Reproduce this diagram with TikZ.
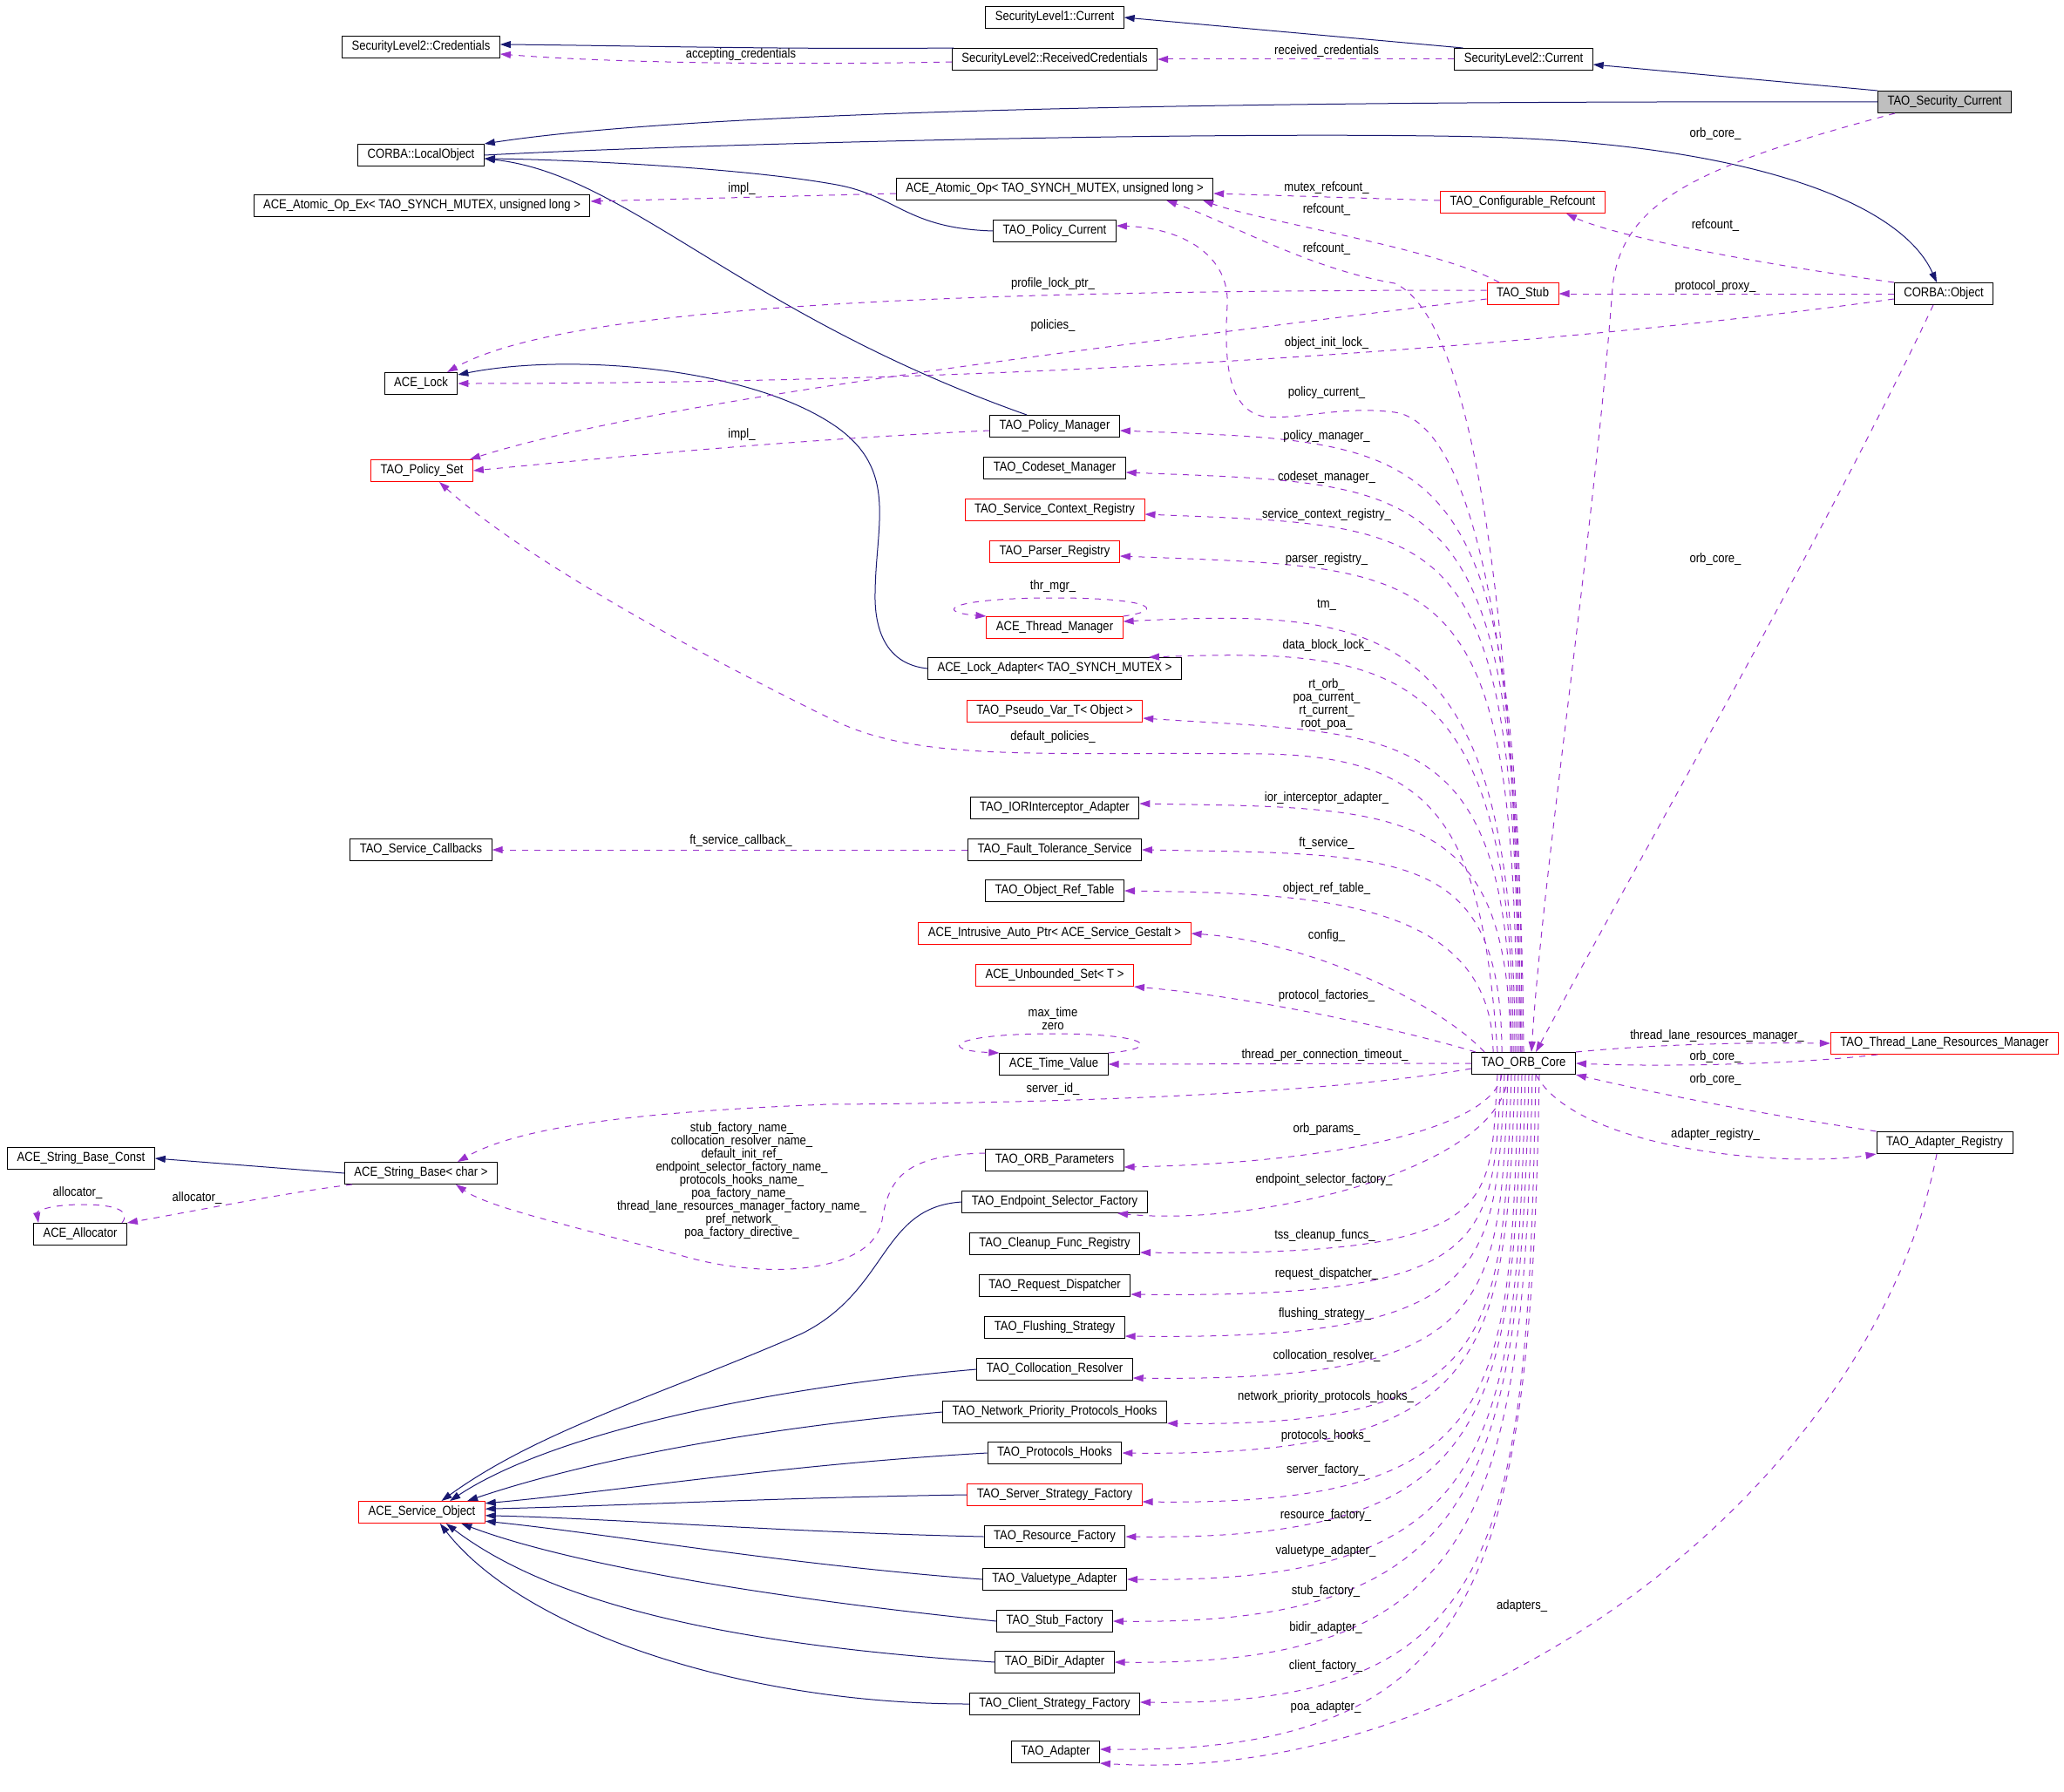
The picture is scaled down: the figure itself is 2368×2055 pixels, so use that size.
\documentclass[tikz,border=0pt]{standalone}
\usepackage{fontspec}
\setmainfont{Liberation Sans}[FakeStretch=0.87]
\usetikzlibrary{arrows.meta}
\definecolor{dxnavy}{HTML}{191970}
\definecolor{dxpurple}{HTML}{9A32CD}
\definecolor{dxred}{HTML}{FF0000}
\definecolor{dxgray}{HTML}{BFBFBF}
\newcommand{\dxfont}{\fontsize{15}{15}\selectfont}

\begin{document}
\begin{tikzpicture}[x=1pt, y=-1pt,
    cls/.style={rectangle, draw=black, line width=1pt, fill=white, minimum height=25pt, inner xsep=11pt, inner ysep=1pt, font=\dxfont},
    clsred/.style={cls, draw=dxred},
    inh/.style={-{Triangle[length=12pt,width=8pt]}, dxnavy, line width=1pt},
    mem/.style={-{Triangle[length=12pt,width=8pt]}, dxpurple, line width=1pt, dash pattern=on 7pt off 7pt},
    lbl/.style={font=\dxfont, text=black, inner sep=0pt, align=center}
]
    \useasboundingbox (0,0) rectangle (2368,2055);

    \node[cls] (sl1cur) at (1210,20) {SecurityLevel1::Current};
    \node[cls] (sl2cred) at (483,54) {SecurityLevel2::Credentials};
    \node[cls] (sl2rc) at (1210,68) {SecurityLevel2::ReceivedCredentials};
    \node[cls] (sl2cur) at (1748,68) {SecurityLevel2::Current};
    \node[cls, fill=dxgray] (tsc) at (2231,117) {TAO\_Security\_Current};
    \node[cls] (localobj) at (483,178) {CORBA::LocalObject};
    \node[cls] (atomicop) at (1210,217) {ACE\_Atomic\_Op< TAO\_SYNCH\_MUTEX, unsigned long >};
    \node[cls] (atomicopex) at (484,236) {ACE\_Atomic\_Op\_Ex< TAO\_SYNCH\_MUTEX, unsigned long >};
    \node[clsred] (cfgref) at (1747,232) {TAO\_Configurable\_Refcount};
    \node[cls] (polcur) at (1210,265) {TAO\_Policy\_Current};
    \node[clsred] (stub) at (1747,337) {TAO\_Stub};
    \node[cls] (corbaobj) at (2230,337) {CORBA::Object};
    \node[cls] (acelock) at (483,440) {ACE\_Lock};
    \node[cls] (polmgr) at (1210,489) {TAO\_Policy\_Manager};
    \node[clsred] (polset) at (484,540) {TAO\_Policy\_Set};
    \node[cls] (codeset) at (1210,537) {TAO\_Codeset\_Manager};
    \node[clsred] (scr) at (1210,585) {TAO\_Service\_Context\_Registry};
    \node[clsred] (parser) at (1210,633) {TAO\_Parser\_Registry};
    \node[clsred] (thrmgr) at (1210,720) {ACE\_Thread\_Manager};
    \node[cls] (lockadp) at (1210,767) {ACE\_Lock\_Adapter< TAO\_SYNCH\_MUTEX >};
    \node[clsred] (pseudo) at (1210,816) {TAO\_Pseudo\_Var\_T< Object >};
    \node[cls] (ior) at (1210,927) {TAO\_IORInterceptor\_Adapter};
    \node[cls] (svccb) at (483,975) {TAO\_Service\_Callbacks};
    \node[cls] (ftsvc) at (1210,975) {TAO\_Fault\_Tolerance\_Service};
    \node[cls] (objref) at (1210,1022) {TAO\_Object\_Ref\_Table};
    \node[clsred] (autoptr) at (1210,1071) {ACE\_Intrusive\_Auto\_Ptr< ACE\_Service\_Gestalt >};
    \node[clsred] (unbset) at (1210,1119) {ACE\_Unbounded\_Set< T >};
    \node[cls] (timeval) at (1209,1221) {ACE\_Time\_Value};
    \node[cls] (core) at (1748,1220) {TAO\_ORB\_Core};
    \node[clsred] (tlrm) at (2231,1197) {TAO\_Thread\_Lane\_Resources\_Manager};
    \node[cls] (adreg) at (2231,1311) {TAO\_Adapter\_Registry};
    \node[cls] (strconst) at (93,1329) {ACE\_String\_Base\_Const};
    \node[cls] (orbparams) at (1210,1331) {TAO\_ORB\_Parameters};
    \node[cls] (strbase) at (483,1346) {ACE\_String\_Base< char >};
    \node[cls] (epsel) at (1210,1379) {TAO\_Endpoint\_Selector\_Factory};
    \node[cls] (alloc) at (92,1416) {ACE\_Allocator};
    \node[cls] (cleanup) at (1210,1427) {TAO\_Cleanup\_Func\_Registry};
    \node[cls] (reqdisp) at (1210,1475) {TAO\_Request\_Dispatcher};
    \node[cls] (flush) at (1210,1523) {TAO\_Flushing\_Strategy};
    \node[cls] (colloc) at (1210,1571) {TAO\_Collocation\_Resolver};
    \node[cls] (netprio) at (1210,1620) {TAO\_Network\_Priority\_Protocols\_Hooks};
    \node[cls] (prothooks) at (1210,1667) {TAO\_Protocols\_Hooks};
    \node[clsred] (svcobj) at (484,1735) {ACE\_Service\_Object};
    \node[clsred] (srvfac) at (1210,1715) {TAO\_Server\_Strategy\_Factory};
    \node[cls] (resfac) at (1210,1763) {TAO\_Resource\_Factory};
    \node[cls] (valtype) at (1210,1812) {TAO\_Valuetype\_Adapter};
    \node[cls] (stubfac) at (1210,1860) {TAO\_Stub\_Factory};
    \node[cls] (bidir) at (1210,1907) {TAO\_BiDir\_Adapter};
    \node[cls] (clifac) at (1210,1955) {TAO\_Client\_Strategy\_Factory};
    \node[cls] (adapter) at (1211,2010) {TAO\_Adapter};

    \draw[inh] (tsc.north west) -- ([yshift=-6pt]sl2cur.east);
    \draw[inh] ([xshift=10pt]sl2cur.north west) -- (sl1cur.east);
    \draw[inh] ([xshift=2pt]sl2rc.north west) .. controls (900,57) and (700,52) .. ([yshift=3pt]sl2cred.east);
    \draw[inh] (tsc.west) .. controls (1200,115) and (750,135) .. (localobj.north east);
    \draw[inh] (localobj.east) .. controls (800,165) and (1400,150) .. (1700,157) .. controls (2000,165) and (2180,230) .. ([xshift=-8pt]corbaobj.north);
    \draw[inh] (polcur.west) .. controls (1040,262) and (1030,225) .. (960,212) .. controls (850,192) and (650,183) .. ([yshift=-4pt]localobj.east);
    \draw[inh] ([xshift=-32pt]polmgr.north) .. controls (850,360) and (720,200) .. ([yshift=-4pt]localobj.east);
    \draw[inh] (lockadp.west) .. controls (1015,762) and (1003,720) .. (1004,680) .. controls (1005,600) and (1030,540) .. (960,490) .. controls (860,420) and (650,405) .. ([yshift=10pt]acelock.east);
    \draw[inh] (strbase.west) -- (strconst.east);
    \draw[inh] (epsel.west) .. controls (1010,1385) and (1020,1480) .. (920,1530) .. controls (760,1600) and (620,1640) .. (svcobj.30);
    \draw[inh] (colloc.west) .. controls (900,1590) and (640,1640) .. (svcobj.22);
    \draw[inh] (netprio.west) .. controls (850,1640) and (660,1680) .. (svcobj.14);
    \draw[inh] (prothooks.west) .. controls (900,1680) and (700,1712) .. (svcobj.8);
    \draw[inh] (srvfac.west) .. controls (900,1718) and (700,1728) .. (svcobj.3);
    \draw[inh] (resfac.west) .. controls (900,1758) and (700,1742) .. (svcobj.-3);
    \draw[inh] (valtype.west) .. controls (900,1795) and (700,1760) .. (svcobj.-8);
    \draw[inh] (stubfac.west) .. controls (850,1830) and (640,1790) .. (svcobj.-16);
    \draw[inh] (bidir.west) .. controls (800,1885) and (620,1830) .. (svcobj.-25);
    \draw[inh] (clifac.west) .. controls (850,1955) and (600,1870) .. (svcobj.-32);

    \draw[mem] ([xshift=-57pt]tsc.south) .. controls (1950,190) and (1860,230) .. (1850,330) .. controls (1830,600) and (1770,1000) .. ([xshift=9pt]core.north) node[lbl] at (1968,154) {orb\_core\_};
    \draw[mem] (sl2cur.west) -- (sl2rc.east) node[lbl] at (1522,59) {received\_credentials};
    \draw[mem] ([yshift=-3pt]sl2rc.west) .. controls (900,75) and (700,72) .. ([yshift=-8pt]sl2cred.east) node[lbl] at (850,63) {accepting\_credentials};
    \draw[mem] ([yshift=2pt]cfgref.west) -- ([yshift=-5pt]atomicop.east) node[lbl] at (1522,216) {mutex\_refcount\_};
    \draw[mem] ([xshift=-27pt]stub.north) .. controls (1650,285) and (1450,255) .. ([xshift=-12pt]atomicop.south east) node[lbl] at (1522,241) {refcount\_};
    \draw[mem] ([xshift=-3pt]core.north) .. controls (1738,700) and (1690,365) .. (1600,325) .. controls (1500,308) and (1410,255) .. ([xshift=-54pt]atomicop.south east) node[lbl] at (1522,286) {refcount\_};
    \draw[mem] ([yshift=4pt]stub.west) .. controls (1100,333) and (650,350) .. ([xshift=30pt]acelock.north) node[lbl] at (1208,326) {profile\_lock\_ptr\_};
    \draw[mem] ([yshift=-6pt]stub.west) .. controls (1250,400) and (750,460) .. ([xshift=55pt]polset.north) node[lbl] at (1208,374) {policies\_};
    \draw[mem] (corbaobj.north west) .. controls (2000,300) and (1850,270) .. ([xshift=50pt]cfgref.south) node[lbl] at (1968,259) {refcount\_};
    \draw[mem] (corbaobj.west) -- (stub.east) node[lbl] at (1968,329) {protocol\_proxy\_};
    \draw[mem] ([yshift=-6pt]corbaobj.west) .. controls (1800,395) and (1200,440) .. (acelock.east) node[lbl] at (1522,394) {object\_init\_lock\_};
    \draw[mem] ([xshift=-12pt]corbaobj.south) .. controls (2100,600) and (1900,950) .. ([xshift=14pt]core.north) node[lbl] at (1968,642) {orb\_core\_};
    \draw[mem] ([yshift=-5pt]polmgr.west) .. controls (900,505) and (700,525) .. (polset.east) node[lbl] at (851,499) {impl\_};
    \draw[mem] ([yshift=-5pt]atomicop.west) -- ([yshift=5pt]atomicopex.east) node[lbl] at (851,217) {impl\_};
    \draw[mem] (core.north) .. controls (1745,750) and (1690,485) .. (1600,473) .. controls (1540,465) and (1490,482) .. (1450,478) .. controls (1410,470) and (1404,420) .. (1408,350) .. controls (1411,295) and (1360,262) .. ([yshift=6pt]polcur.east) node[lbl] at (1522,451) {policy\_current\_};
    \draw[mem] ([xshift=-2pt]core.north) .. controls +(0,-713) and +(380,15) .. ([yshift=-5pt]polmgr.east) node[lbl] at (1522,501) {policy\_manager\_};
    \draw[mem] ([xshift=-4pt]core.north) .. controls +(0,-665) and +(380,15) .. ([yshift=-5pt]codeset.east) node[lbl] at (1522,548) {codeset\_manager\_};
    \draw[mem] ([xshift=-6pt]core.north) .. controls +(0,-617) and +(360,15) .. ([yshift=-5pt]scr.east) node[lbl] at (1522,591) {service\_context\_registry\_};
    \draw[mem] ([xshift=-8pt]core.north) .. controls +(0,-569) and +(380,15) .. ([yshift=-5pt]parser.east) node[lbl] at (1522,642) {parser\_registry\_};
    \draw[mem] ([xshift=-10pt]core.north) .. controls +(0,-494) and +(300,-15) .. ([yshift=7pt]thrmgr.east) node[lbl] at (1522,694) {tm\_};
    \draw[mem] ([xshift=-12pt]core.north) .. controls +(0,-452) and +(280,-10) .. ([xshift=-38pt]lockadp.north east) node[lbl] at (1522,741) {data\_block\_lock\_};
    \draw[mem] ([xshift=-14pt]core.north) .. controls +(0,-383) and +(300,20) .. ([yshift=-8pt]pseudo.east) node[lbl] at (1522,808) {rt\_orb\_\\poa\_current\_\\rt\_current\_\\root\_poa\_};
    \draw[mem] ([xshift=30pt]core.north west) .. controls (1700,950) and (1650,868) .. (1450,865) .. controls (1200,862) and (1060,875) .. (960,828) .. controls (800,750) and (600,640) .. ([xshift=20pt]polset.south) node[lbl] at (1208,846) {default\_policies\_};
    \draw[mem] ([xshift=45pt]core.north west) .. controls (1732,922) and (1609,927) .. ([yshift=5pt]ior.east) node[lbl] at (1522,916) {ior\_interceptor\_adapter\_};
    \draw[mem] ([xshift=35pt]core.north west) .. controls (1722,975) and (1612,980) .. (ftsvc.east) node[lbl] at (1522,968) {ft\_service\_};
    \draw[mem] ([xshift=25pt]core.north west) .. controls (1712,1030) and (1500,1025) .. (objref.east) node[lbl] at (1522,1020) {object\_ref\_table\_};
    \draw[mem] ([xshift=15pt]core.north west) .. controls (1650,1150) and (1500,1080) .. (autoptr.east) node[lbl] at (1522,1074) {config\_};
    \draw[mem] ([xshift=5pt]core.north west) .. controls (1620,1185) and (1450,1145) .. (unbset.south east) node[lbl] at (1522,1143) {protocol\_factories\_};
    \draw[mem] (core.west) -- (timeval.east) node[lbl] at (1520,1211) {thread\_per\_connection\_timeout\_};
    \draw[mem] ([yshift=-6pt]core.west) .. controls (1550,1250) and (1300,1265) .. (950,1267) .. controls (750,1275) and (600,1290) .. ([xshift=42pt]strbase.north) node[lbl] at (1208,1250) {server\_id\_};
    \draw[mem] ([yshift=8pt]orbparams.west) .. controls (1040,1325) and (1020,1350) .. (1012,1400) .. controls (1002,1460) and (880,1470) .. (780,1440) .. controls (650,1405) and (560,1385) .. ([xshift=40pt]strbase.south) node[lbl] at (851,1355) {stub\_factory\_name\_\\collocation\_resolver\_name\_\\default\_init\_ref\_\\endpoint\_selector\_factory\_name\_\\protocols\_hooks\_name\_\\poa\_factory\_name\_\\thread\_lane\_resources\_manager\_factory\_name\_\\pref\_network\_\\poa\_factory\_directive\_};
    \draw[mem] ([xshift=-25pt]core.south) .. controls +(-10,60) and +(250,-5) .. ([yshift=-8pt]orbparams.east) node[lbl] at (1522,1296) {orb\_params\_};
    \draw[mem] ([xshift=-18pt]core.south) .. controls +(-5,108) and +(158,16) .. ([xshift=72pt]epsel.south) node[lbl] at (1519,1354) {endpoint\_selector\_factory\_};
    \draw[mem] ([xshift=-30pt]core.south) .. controls +(-10,154) and +(420,5) .. ([yshift=-10pt]cleanup.east) node[lbl] at (1520,1418) {tss\_cleanup\_funcs\_};
    \draw[mem] ([xshift=-26pt]core.south) .. controls +(-10,190) and +(420,5) .. ([yshift=-10pt]reqdisp.east) node[lbl] at (1522,1462) {request\_dispatcher\_};
    \draw[mem] ([xshift=-22pt]core.south) .. controls +(-10,226) and +(420,5) .. ([yshift=-10pt]flush.east) node[lbl] at (1520,1508) {flushing\_strategy\_};
    \draw[mem] ([xshift=-18pt]core.south) .. controls +(-10,262) and +(420,5) .. ([yshift=-10pt]colloc.east) node[lbl] at (1522,1556) {collocation\_resolver\_};
    \draw[mem] ([xshift=-14pt]core.south) .. controls +(-10,300) and +(380,5) .. (netprio.south east) node[lbl] at (1521,1603) {network\_priority\_protocols\_hooks\_};
    \draw[mem] ([xshift=-10pt]core.south) .. controls +(-10,326) and +(420,5) .. (prothooks.east) node[lbl] at (1521,1648) {protocols\_hooks\_};
    \draw[mem] ([xshift=-6pt]core.south) .. controls +(-10,368) and +(420,5) .. ([yshift=-8pt]srvfac.east) node[lbl] at (1521,1687) {server\_factory\_};
    \draw[mem] ([xshift=-2pt]core.south) .. controls +(-10,398) and +(420,5) .. (resfac.east) node[lbl] at (1521,1739) {resource\_factory\_};
    \draw[mem] ([xshift=2pt]core.south) .. controls +(-10,435) and +(420,5) .. (valtype.east) node[lbl] at (1521,1780) {valuetype\_adapter\_};
    \draw[mem] ([xshift=6pt]core.south) .. controls +(-10,470) and +(420,5) .. (stubfac.east) node[lbl] at (1521,1826) {stub\_factory\_};
    \draw[mem] ([xshift=10pt]core.south) .. controls +(-10,506) and +(420,5) .. (bidir.east) node[lbl] at (1521,1868) {bidir\_adapter\_};
    \draw[mem] ([xshift=14pt]core.south) .. controls +(-10,540) and +(420,5) .. ([yshift=2pt]clifac.east) node[lbl] at (1521,1912) {client\_factory\_};
    \draw[mem] ([xshift=18pt]core.south) .. controls +(-10,581) and +(440,5) .. ([yshift=3pt]adapter.east) node[lbl] at (1521,1959) {poa\_adapter\_};
    \draw[mem] (core.north east) .. controls (1900,1198) and (2000,1196) .. (tlrm.west) node[lbl] at (1970,1189) {thread\_lane\_resources\_manager\_};
    \draw[mem] ([xshift=-77pt]tlrm.south) .. controls (2050,1222) and (1900,1224) .. (core.east) node[lbl] at (1968,1213) {orb\_core\_};
    \draw[mem] (adreg.north west) .. controls (2000,1275) and (1880,1250) .. (core.south east) node[lbl] at (1968,1239) {orb\_core\_};
    \draw[mem] ([xshift=14pt]core.south) .. controls (1810,1320) and (2050,1340) .. (adreg.south west) node[lbl] at (1968,1302) {adapter\_registry\_};
    \draw[mem] ([xshift=-9pt]adreg.south) .. controls (2150,1700) and (1700,2050) .. (adapter.south east) node[lbl] at (1746,1843) {adapters\_};
    \draw[mem] (ftsvc.west) -- (svccb.east) node[lbl] at (850,965) {ft\_service\_callback\_};
    \draw[mem] (thrmgr.north east) .. controls (1340,700) and (1320,686) .. (1210,686) .. controls (1090,686) and (1070,702) .. (thrmgr.north west) node[lbl] at (1208,673) {thr\_mgr\_};
    \draw[mem] (timeval.north east) .. controls (1335,1203) and (1320,1186) .. (1208,1186) .. controls (1090,1186) and (1075,1205) .. (timeval.north west) node[lbl] at (1208,1169) {max\_time\\zero};
    \draw[mem] ([xshift=-6pt]alloc.north east) .. controls (150,1390) and (135,1382) .. (95,1382) .. controls (55,1382) and (42,1390) .. ([xshift=6pt]alloc.north west) node[lbl] at (89,1369) {allocator\_};
    \draw[mem] ([xshift=9pt]strbase.south west) .. controls (330,1368) and (220,1390) .. (alloc.north east) node[lbl] at (226,1375) {allocator\_};
\end{tikzpicture}
\end{document}
